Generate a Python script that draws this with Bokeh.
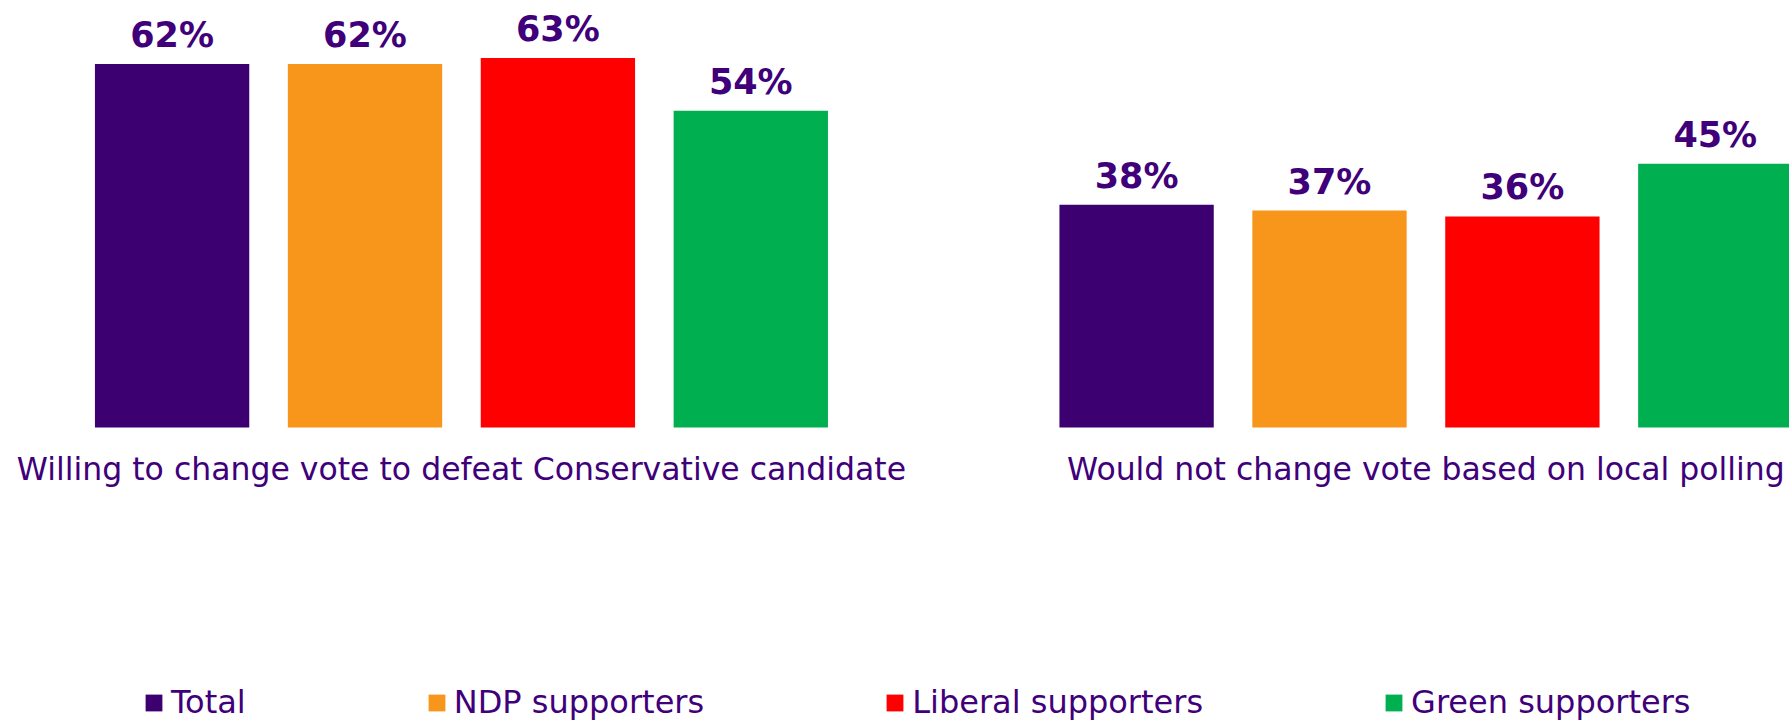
from bokeh.plotting import figure
from bokeh.models import Range1d, ColumnDataSource, Legend, LegendItem
from bokeh.core.properties import value
from bokeh.embed import file_html
from bokeh.resources import INLINE

categories = ["Willing to change vote to defeat Conservative candidate",
              "Would not change vote based on local polling"]
series = ["Total", "NDP supporters", "Liberal supporters", "Green supporters"]
values = {
    "Total": [62, 38],
    "NDP supporters": [62, 37],
    "Liberal supporters": [63, 36],
    "Green supporters": [54, 45],
}
colors = ["#3D0070", "#F7961A", "#FF0000", "#00AF50"]
text_color = "#40007A"
FONT = "DejaVu Sans"

W, H = 1789, 720
p = figure(width=W, height=H, output_backend="svg", toolbar_location=None,
           x_range=Range1d(-0.8896, 8.3847), y_range=Range1d(-49.97, 72.82),
           min_border=0, min_border_left=0, min_border_right=0,
           min_border_top=0, min_border_bottom=0)
p.axis.visible = False
p.grid.visible = False
p.outline_line_color = None
p.background_fill_color = "white"
p.border_fill_color = "white"

group_step = len(series) + 1
items = []
for j, s in enumerate(series):
    xs = [i * group_step + j for i in range(len(categories))]
    src = ColumnDataSource(dict(x=xs, top=values[s],
                                lab=[f"{v}%" for v in values[s]]))
    r = p.vbar(x="x", top="top", bottom=0, width=0.8, source=src,
               fill_color=colors[j], line_color=None)
    p.text(x="x", y="top", text="lab", source=src, text_align="center",
           text_baseline="alphabetic", y_offset=-29,
           text_font=value(FONT), text_font_style="bold",
           text_font_size="35px", text_color=text_color)
    items.append(LegendItem(label=s, renderers=[r]))

cat_x = [i * group_step + (len(series) - 1) / 2 for i in range(len(categories))]
csrc = ColumnDataSource(dict(x=cat_x, y=[0] * len(categories), t=categories))
p.text(x="x", y="y", text="t", source=csrc, text_align="center",
       text_baseline="alphabetic", y_offset=42,
       text_font=value(FONT), text_font_size="31.5px", text_color=text_color)

legend = Legend(items=items, orientation="horizontal", location=(143, -1),
                glyph_width=21, glyph_height=21, label_standoff=7,
                spacing=180, padding=0, margin=0,
                label_text_font=FONT, label_text_font_size="32px",
                label_text_color=text_color, border_line_color=None,
                background_fill_alpha=0)
p.add_layout(legend, "center")

open("out.html", "w").write(file_html(p, INLINE))
